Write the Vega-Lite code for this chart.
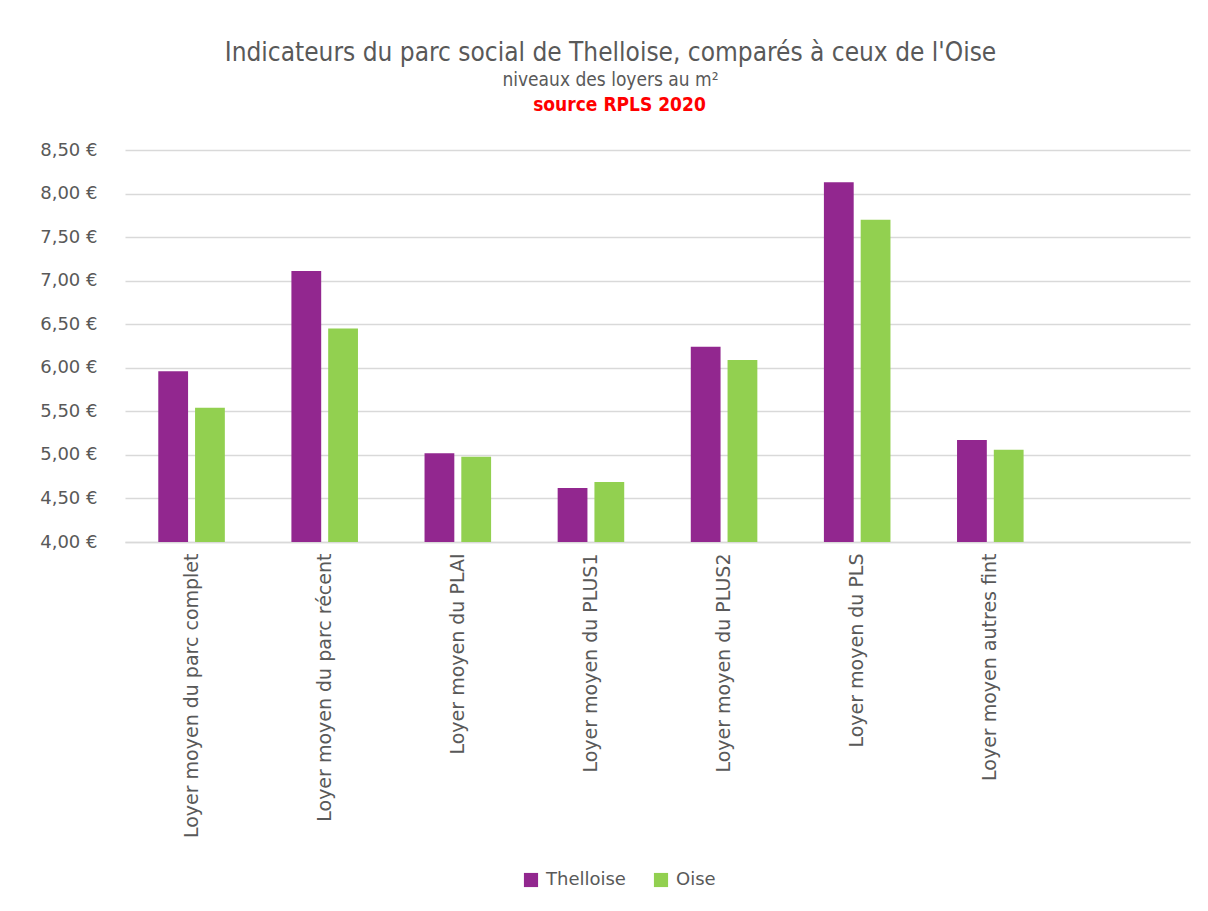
{
  "$schema": "https://vega.github.io/schema/vega-lite/v6.json",
  "background": "white",
  "padding": {"left": 5, "top": 40, "right": 10, "bottom": 10},
  "title": {
    "text": "Indicateurs du parc social de Thelloise, comparés à ceux de l'Oise",
    "subtitle": "niveaux des loyers au m²",
    "anchor": "middle",
    "frame": "bounds",
    "dx": 13,
    "font": "'DejaVu Sans Condensed', Roboto",
    "fontSize": 26,
    "fontWeight": "normal",
    "color": "#595959",
    "subtitleFont": "'DejaVu Sans Condensed', Roboto",
    "subtitleFontSize": 19,
    "subtitleColor": "#595959",
    "subtitlePadding": 5,
    "offset": 6
  },
  "data": {
    "values": [
      {"cat": "Loyer moyen du parc complet", "zone": "Thelloise", "val": 5.96},
      {"cat": "Loyer moyen du parc complet", "zone": "Oise", "val": 5.54},
      {"cat": "Loyer moyen du parc récent", "zone": "Thelloise", "val": 7.11},
      {"cat": "Loyer moyen du parc récent", "zone": "Oise", "val": 6.45},
      {"cat": "Loyer moyen du PLAI", "zone": "Thelloise", "val": 5.02},
      {"cat": "Loyer moyen du PLAI", "zone": "Oise", "val": 4.98},
      {"cat": "Loyer moyen du PLUS1", "zone": "Thelloise", "val": 4.62},
      {"cat": "Loyer moyen du PLUS1", "zone": "Oise", "val": 4.69},
      {"cat": "Loyer moyen du PLUS2", "zone": "Thelloise", "val": 6.24},
      {"cat": "Loyer moyen du PLUS2", "zone": "Oise", "val": 6.09},
      {"cat": "Loyer moyen du PLS", "zone": "Thelloise", "val": 8.13},
      {"cat": "Loyer moyen du PLS", "zone": "Oise", "val": 7.70},
      {"cat": "Loyer moyen autres fint", "zone": "Thelloise", "val": 5.17},
      {"cat": "Loyer moyen autres fint", "zone": "Oise", "val": 5.06}
    ]
  },
  "vconcat": [
    {
      "title": {
        "text": "source RPLS 2020",
        "color": "#ff0000",
        "font": "'DejaVu Sans Condensed', Roboto",
        "fontSize": 19,
        "fontWeight": "bold",
        "anchor": "middle",
        "frame": "bounds",
        "dx": 22,
        "offset": 26
      },
      "width": 1065,
      "height": 392,
      "mark": {"type": "bar", "clip": true},
      "encoding": {
        "x": {
          "field": "cat",
          "type": "nominal",
          "sort": null,
          "scale": {
            "domain": ["Loyer moyen du parc complet", "Loyer moyen du parc récent", "Loyer moyen du PLAI", "Loyer moyen du PLUS1", "Loyer moyen du PLUS2", "Loyer moyen du PLS", "Loyer moyen autres fint", " "],
            "paddingInner": 0.5,
            "paddingOuter": 0.25
          },
          "axis": {
            "title": null,
            "labelAngle": -90,
            "labelAlign": "right",
            "labelBaseline": "middle",
            "labelFont": "DejaVu Sans",
            "labelFontSize": 19,
            "labelColor": "#595959",
            "labelPadding": 11,
            "ticks": false,
            "domain": true,
            "domainColor": "#d9d9d9",
            "domainWidth": 1.5,
            "labelLimit": 400
          }
        },
        "xOffset": {
          "field": "zone",
          "type": "nominal",
          "sort": ["Thelloise", "Oise"],
          "scale": {"paddingInner": 0.19, "paddingOuter": 0}
        },
        "y": {
          "field": "val",
          "type": "quantitative",
          "scale": {"domain": [4, 8.5], "zero": false, "nice": false},
          "axis": {
            "title": null,
            "values": [4, 4.5, 5, 5.5, 6, 6.5, 7, 7.5, 8, 8.5],
            "labelExpr": "replace(format(datum.value, '.2f'), '.', ',') + ' €'",
            "labelFont": "DejaVu Sans",
            "labelFontSize": 18,
            "labelColor": "#595959",
            "labelPadding": 28,
            "ticks": false,
            "domain": false,
            "gridColor": "#d9d9d9",
            "gridWidth": 1.5,
            "minExtent": 120,
            "maxExtent": 120
          }
        },
        "y2": {"datum": 4},
        "color": {
          "field": "zone",
          "type": "nominal",
          "sort": ["Thelloise", "Oise"],
          "scale": {"domain": ["Thelloise", "Oise"], "range": ["#92278F", "#92D050"]},
          "legend": {
            "title": null,
            "orient": "none",
            "legendX": 397,
            "legendY": 721,
            "direction": "horizontal",
            "symbolType": "square",
            "symbolSize": 200,
            "symbolStrokeWidth": 0,
            "labelFont": "DejaVu Sans",
            "labelFontSize": 18,
            "labelColor": "#595959",
            "labelOffset": 6,
            "columnPadding": 26
          }
        }
      }
    }
  ],
  "config": {
    "view": {"stroke": null}
  }
}
